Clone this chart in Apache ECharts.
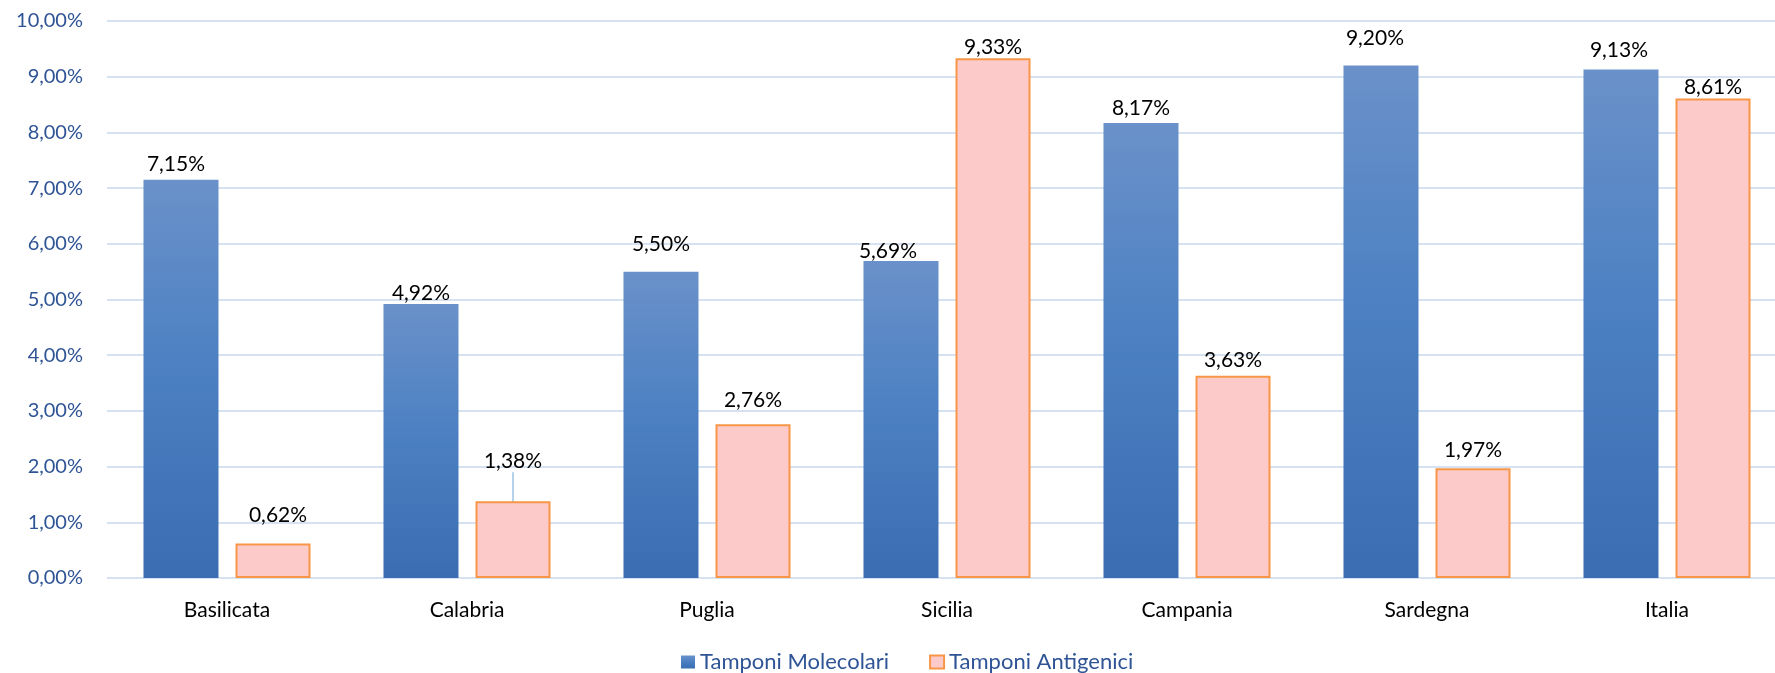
<!DOCTYPE html>
<html>
<head>
<meta charset="utf-8">
<script src="https://cdn.jsdelivr.net/npm/echarts@6/dist/echarts.min.js"></script>
<style>
html,body{margin:0;padding:0;background:#fff;}
#chart{width:1775px;height:673px;}
</style>
</head>
<body>
<div id="chart"></div>
<script>
// ---- data ----
var categories = ['Basilicata', 'Calabria', 'Puglia', 'Sicilia', 'Campania', 'Sardegna', 'Italia'];
var molecolari = [7.15, 4.92, 5.50, 5.69, 8.17, 9.20, 9.13];
var antigenici = [0.62, 1.38, 2.76, 9.33, 3.63, 1.97, 8.61];
var seriesNames = ['Tamponi Molecolari', 'Tamponi Antigenici'];

// label nudges (layout only, as in the source's manually placed labels)
var molLabelShift = [[-5, 0], [0, 5], [0, -12], [-13, 6], [0, 1], [-6, -12], [-2, -4]];
var antLabelShift = [[5, -13], [0, -24], [0, -9], [0, 4], [0, 0], [0, -3], [0, 4]];

function fmt(v) { return v.toFixed(2).replace('.', ',') + '%'; }

var FONT = 'Lato';
var chart = echarts.init(document.getElementById('chart'));

var molData = molecolari.map(function (v) { return { value: v }; });
var antData = antigenici.map(function (v, i) {
  var d = { value: v };
  if (i === 1) d.labelLine = { show: true, lineStyle: { color: '#9DC3E6', width: 1.5 } };
  return d;
});

chart.setOption({
  animation: false,
  textStyle: { fontFamily: FONT },
  grid: { left: 107, right: -12, top: 21, bottom: 95, containLabel: false, outerBoundsMode: 'none' },
  legend: {
    data: seriesNames,
    left: 676,
    top: 646,
    icon: 'rect',
    itemWidth: 14,
    itemHeight: 13,
    itemGap: 40,
    textStyle: { color: '#2F5496', fontSize: 22, fontFamily: FONT }
  },
  xAxis: {
    type: 'category',
    data: categories,
    axisLine: { show: false },
    axisTick: { show: false },
    axisLabel: { color: '#000', fontSize: 21, fontFamily: FONT, margin: 22 }
  },
  yAxis: {
    type: 'value',
    min: 0,
    max: 10,
    interval: 1,
    axisLine: { show: false },
    axisTick: { show: false },
    splitLine: { lineStyle: { color: '#D6E1F2', width: 2 } },
    axisLabel: {
      color: '#2F5496', fontSize: 20, fontFamily: FONT, margin: 24,
      formatter: function (v) { return fmt(v); }
    }
  },
  series: [
    {
      name: seriesNames[0],
      type: 'bar',
      data: molData,
      barWidth: 75,
      barGap: '22.7%',
      itemStyle: {
        color: {
          type: 'linear', x: 0, y: 0, x2: 0, y2: 1,
          colorStops: [
            { offset: 0, color: '#6A91C9' },
            { offset: 0.5, color: '#4A7FC2' },
            { offset: 1, color: '#3A6DB1' }
          ]
        }
      },
      label: {
        show: true, position: 'top', distance: 5,
        color: '#000', fontSize: 21, fontFamily: FONT,
        formatter: function (p) { return fmt(p.value); }
      },
      labelLayout: function (p) {
        var s = molLabelShift[p.dataIndex];
        return { dx: s[0], dy: s[1] };
      }
    },
    {
      name: seriesNames[1],
      type: 'bar',
      data: antData,
      barWidth: 75,
      itemStyle: { color: '#FDCACA', borderColor: '#F79646', borderWidth: 2 },
      label: {
        show: true, position: 'top', distance: 5,
        color: '#000', fontSize: 21, fontFamily: FONT,
        formatter: function (p) { return fmt(p.value); }
      },
      labelLayout: function (p) {
        var s = antLabelShift[p.dataIndex];
        return { dx: s[0], dy: s[1] };
      }
    }
  ]
});
</script>
</body>
</html>
